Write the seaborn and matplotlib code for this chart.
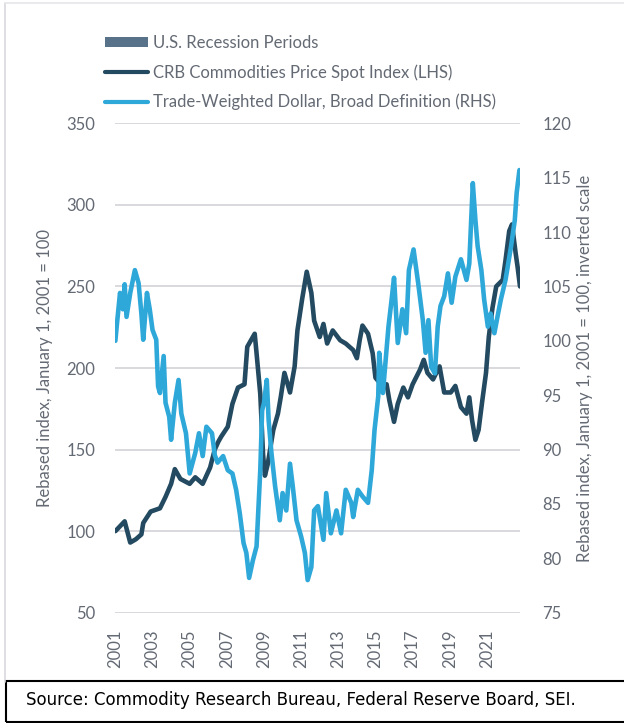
import numpy as np
import pandas as pd
import seaborn as sns
import matplotlib.pyplot as plt
from matplotlib.patches import Patch
from matplotlib.lines import Line2D

# CRB commodities spot index, rebased (left axis)
crb_years = [2001.00, 2001.25, 2001.50, 2001.80, 2002.10, 2002.40, 2002.50, 2002.90, 2003.40, 2003.70,
             2004.00, 2004.20, 2004.50, 2005.00, 2005.30, 2005.70, 2006.10, 2006.35, 2006.55, 2006.70,
             2007.05, 2007.30, 2007.60, 2007.95, 2008.10, 2008.50, 2008.60, 2008.80, 2008.95, 2009.05,
             2009.20, 2009.50, 2009.75, 2009.90, 2010.10, 2010.40, 2010.65, 2010.80, 2011.05, 2011.30,
             2011.55, 2011.70, 2012.00, 2012.20, 2012.40, 2012.70, 2013.10, 2013.40, 2013.80, 2014.00,
             2014.15, 2014.30, 2014.60, 2014.85, 2015.00, 2015.30, 2015.60, 2015.75, 2016.00, 2016.20,
             2016.50, 2016.75, 2017.00, 2017.40, 2017.60, 2017.80, 2018.10, 2018.45, 2018.70, 2019.05,
             2019.30, 2019.60, 2019.90, 2020.05, 2020.20, 2020.38, 2020.55, 2020.75, 2020.95, 2021.10,
             2021.30, 2021.50, 2021.85, 2022.00, 2022.20, 2022.35, 2022.55, 2022.65, 2022.78]
crb_values = [100, 103, 106, 93, 95, 98, 105, 112, 114, 121,
              129, 138, 132, 129, 133, 129, 139, 150, 155, 158,
              164, 178, 188, 190, 213, 221, 209, 184, 147, 134,
              141, 162, 172, 182, 197, 185, 201, 223, 242, 259,
              246, 229, 219, 227, 215, 223, 217, 215, 211, 206,
              217, 226, 221, 209, 194, 190, 190, 180, 167, 178,
              188, 182, 190, 199, 205, 197, 193, 201, 185, 185,
              189, 176, 172, 182, 168, 156, 162, 180, 197, 219,
              237, 250, 254, 266, 284, 288, 270, 262, 250]

# Trade-weighted dollar, broad, rebased (right axis)
usd_years = [2001.00, 2001.07, 2001.25, 2001.40, 2001.50, 2001.60, 2001.80, 2002.05, 2002.25, 2002.40,
             2002.50, 2002.70, 2002.85, 2003.00, 2003.20, 2003.30, 2003.40, 2003.60, 2003.70, 2003.90,
             2004.00, 2004.20, 2004.40, 2004.55, 2004.80, 2005.00, 2005.30, 2005.50, 2005.70, 2005.90,
             2006.20, 2006.35, 2006.50, 2006.80, 2007.05, 2007.30, 2007.50, 2007.70, 2007.90, 2008.05,
             2008.20, 2008.40, 2008.60, 2008.80, 2008.90, 2009.00, 2009.15, 2009.25, 2009.40, 2009.60,
             2009.85, 2010.00, 2010.20, 2010.40, 2010.55, 2010.75, 2011.00, 2011.20, 2011.35, 2011.55,
             2011.70, 2011.90, 2012.20, 2012.35, 2012.60, 2012.90, 2013.15, 2013.40, 2013.70, 2013.80,
             2014.05, 2014.30, 2014.60, 2014.80, 2014.95, 2015.15, 2015.20, 2015.40, 2015.70, 2015.85,
             2016.00, 2016.20, 2016.45, 2016.65, 2016.80, 2017.05, 2017.30, 2017.55, 2017.70, 2017.85,
             2018.00, 2018.20, 2018.35, 2018.50, 2018.70, 2018.90, 2019.10, 2019.30, 2019.60, 2019.90,
             2020.05, 2020.24, 2020.38, 2020.50, 2020.70, 2020.85, 2021.05, 2021.20, 2021.40, 2021.60,
             2021.75, 2022.00, 2022.30, 2022.50, 2022.60, 2022.75]
usd_values = [100.0, 101.3, 104.4, 102.9, 105.2, 102.2, 104.4, 106.5, 105.3, 102.5,
              100.1, 104.4, 102.9, 101.0, 100.1, 95.8, 95.2, 98.6, 94.3, 93.0,
              90.9, 94.3, 96.4, 93.3, 91.5, 87.8, 89.7, 91.5, 89.4, 92.1,
              91.5, 89.5, 88.8, 89.4, 88.1, 87.8, 86.3, 84.1, 81.4, 80.5,
              78.2, 79.8, 81.1, 88.1, 93.6, 94.3, 96.4, 92.7, 89.7, 86.6,
              83.5, 86.0, 84.4, 88.7, 86.6, 83.5, 82.0, 80.5, 78.0, 79.2,
              84.4, 84.8, 81.7, 86.0, 82.3, 84.4, 82.3, 86.3, 85.1, 83.8,
              86.3, 85.7, 85.1, 88.1, 91.8, 94.9, 98.9, 95.2, 101.3, 103.5,
              105.8, 99.8, 102.9, 100.7, 106.5, 108.4, 105.3, 101.9, 98.9, 101.9,
              97.6, 97.0, 101.3, 103.2, 104.1, 106.2, 103.5, 105.9, 107.5, 105.6,
              107.1, 114.5, 111.1, 108.7, 106.5, 103.8, 101.3, 102.5, 100.7, 102.5,
              103.8, 105.6, 108.7, 111.1, 113.6, 115.7]

year_ticks = list(range(2001, 2022, 2))
left_ticks = [50, 100, 150, 200, 250, 300, 350]
right_ticks = [75, 80, 85, 90, 95, 100, 105, 110, 115, 120]

dark = "#234a60"
light = "#2ea7d9"
recession_color = "#587289"
text_color = "#646a74"

sns.set_style("white")
plt.rcParams["font.family"] = ["Lato", "DejaVu Sans"]

fig = plt.figure(figsize=(6.24, 7.23), dpi=100)
ax = fig.add_axes([115 / 624, 1 - 612.7 / 723, (520 - 115) / 624, (612.7 - 123.3) / 723])

crb = pd.DataFrame({"year": crb_years, "value": crb_values})
usd = pd.DataFrame({"year": usd_years, "value": usd_values})

sns.lineplot(data=crb, x="year", y="value", ax=ax, color=dark, linewidth=3.3)
ax.set_xlim(2000.98, 2022.78)
ax.set_ylim(50, 350)
ax.set_yticks(left_ticks)
ax.set_xticks(year_ticks)
ax.set_xticklabels([str(y) for y in year_ticks], rotation=90)
ax.grid(axis="y", color="#d9d9de", linewidth=1.4)
ax.grid(axis="x", visible=False)
ax.set_axisbelow(True)
ax.tick_params(length=0, labelsize=12, labelcolor=text_color, pad=14)
ax.tick_params(axis="x", pad=12)
ax.set_xlabel("")
ax.set_ylabel("Rebased index, January 1, 2001 = 100", fontsize=12, color=text_color, labelpad=10)
for s in ax.spines.values():
    s.set_visible(False)

ax2 = ax.twinx()
sns.lineplot(data=usd, x="year", y="value", ax=ax2, color=light, linewidth=3.3)
ax2.set_ylim(75, 120)
ax2.set_yticks(right_ticks)
ax2.tick_params(length=0, labelsize=12, labelcolor=text_color, pad=16)
ax2.set_ylabel("Rebased index, January 1, 2001 = 100, inverted scale", fontsize=12,
               color=text_color, labelpad=4)
ax2.grid(False)
for s in ax2.spines.values():
    s.set_visible(False)

handles = [Patch(facecolor=recession_color, edgecolor="none"),
           Line2D([0], [0], color=dark, linewidth=3),
           Line2D([0], [0], color=light, linewidth=3)]
labels = ["U.S. Recession Periods",
          "CRB Commodities Price Spot Index (LHS)",
          "Trade-Weighted Dollar, Broad Definition (RHS)"]
leg = fig.legend(handles, labels, loc="upper left", bbox_to_anchor=(98 / 624, 1 - 28 / 723),
                 frameon=False, fontsize=12, handlelength=2.6, handleheight=0.5,
                 handletextpad=0.3, labelspacing=0.8, borderaxespad=0)
for t in leg.get_texts():
    t.set_color(text_color)

# outer frame and source box
fig.add_artist(plt.Line2D([5 / 624, 5 / 624], [1 - 682 / 723, 1 - 3 / 723], color="#d9d9de", lw=1.2))
fig.add_artist(plt.Line2D([5 / 624, 1], [1 - 3 / 723, 1 - 3 / 723], color="#e6e6ea", lw=1.2))
fig.add_artist(plt.Rectangle((6 / 624, 0.002), 1, (723 - 682) / 723, fill=False,
                             edgecolor="black", lw=1.5))
fig.text(26 / 624, 1 - 700 / 723, "Source: Commodity Research Bureau, Federal Reserve Board, SEI.",
         fontsize=12, family="DejaVu Sans", color="black", va="center")

fig.savefig("out.png", dpi=100)
